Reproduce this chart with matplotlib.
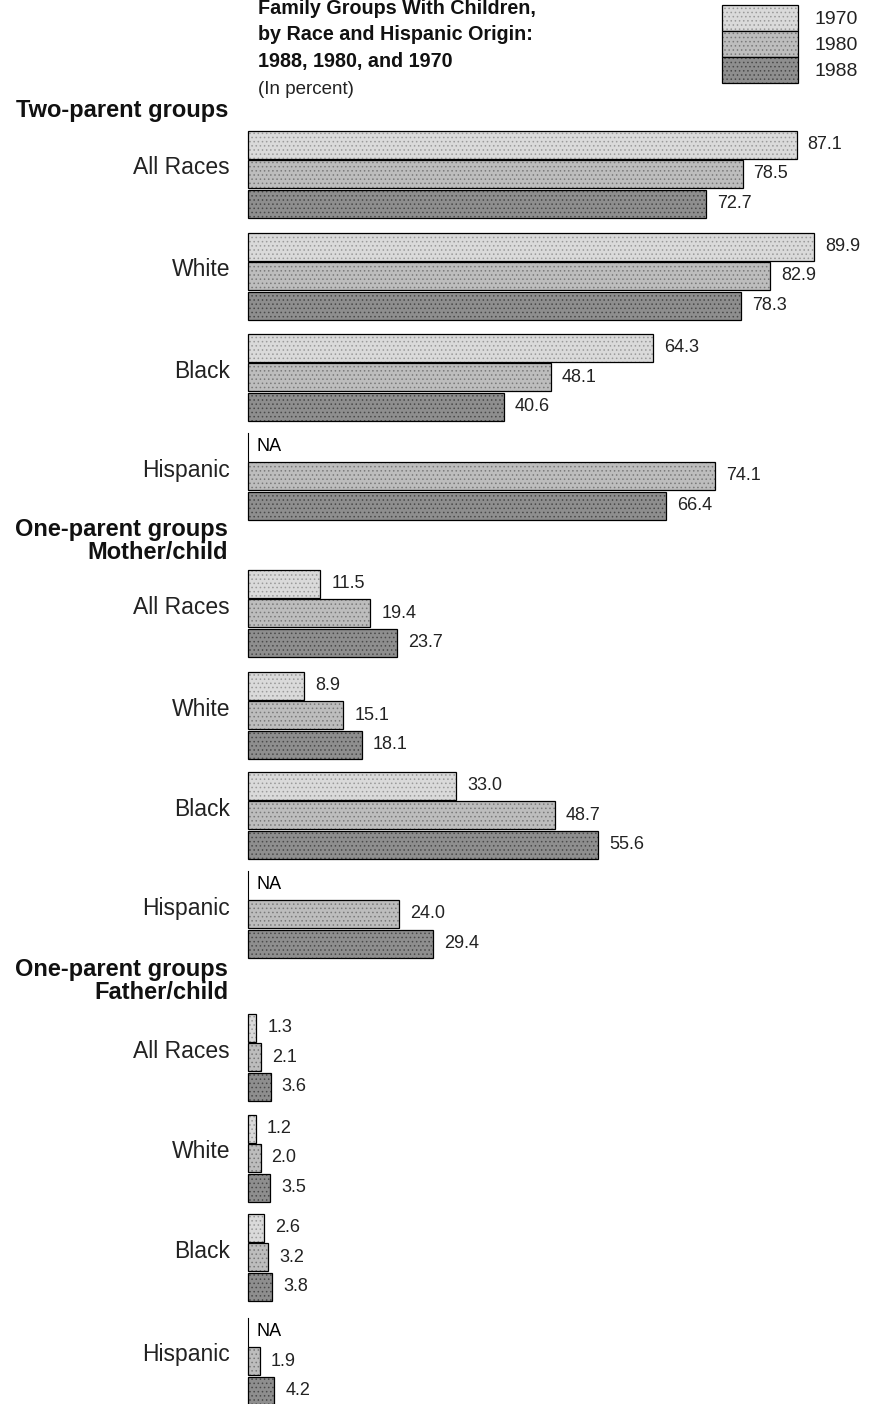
import matplotlib
matplotlib.use("Agg")
import matplotlib.pyplot as plt
import numpy as np

plt.rcParams['font.family'] = ['Liberation Sans', 'DejaVu Sans']
plt.rcParams['hatch.linewidth'] = 0.6

# data (percent), None = not available
years = ["1970", "1980", "1988"]
races = ["All Races", "White", "Black", "Hispanic"]
sections = ["Two-parent groups", "One-parent groups\nMother/child", "One-parent groups\nFather/child"]

two_parent_1970 = [87.1, 89.9, 64.3, None]
two_parent_1980 = [78.5, 82.9, 48.1, 74.1]
two_parent_1988 = [72.7, 78.3, 40.6, 66.4]

mother_1970 = [11.5, 8.9, 33.0, None]
mother_1980 = [19.4, 15.1, 48.7, 24.0]
mother_1988 = [23.7, 18.1, 55.6, 29.4]

father_1970 = [1.3, 1.2, 2.6, None]
father_1980 = [2.1, 2.0, 3.2, 1.9]
father_1988 = [3.6, 3.5, 3.8, 4.2]

section_data = [
    [two_parent_1970, two_parent_1980, two_parent_1988],
    [mother_1970, mother_1980, mother_1988],
    [father_1970, father_1980, father_1988],
]

# layout in pixels
W, H = 869, 1404
x0 = 248          # zero line
ppu = 6.3         # pixels per percent
group_mid = [[174, 276, 377, 476], [613, 715, 815, 914], [1057, 1158, 1257, 1361]]
header_y = [110, 541, 981]
pitch = 29.5
bar_h = 28

face = ["#dadada", "#bdbdbd", "#8e8e8e"]
dots = ["#9a9a9a", "#7a7a7a", "#4a4a4a"]

fig = plt.figure(figsize=(W / 100, H / 100), dpi=100)
ax = fig.add_axes([0, 0, 1, 1])
ax.set_xlim(-x0 / ppu, (W - x0) / ppu)
ax.set_ylim(H, 0)
ax.axis("off")


def tx(xpx):
    return (xpx - x0) / ppu


for s, series in enumerate(section_data):
    ax.text(tx(228), header_y[s], sections[s], ha="right", va="center",
            fontsize=17, fontweight="bold", linespacing=1.0, color="#111111")
    for g, race in enumerate(races):
        mid = group_mid[s][g]
        ax.text(tx(230), mid - 6, race, ha="right", va="center", fontsize=16.5,
                color="#222222")
        for k in range(3):
            v = series[k][g]
            yc = mid + (k - 1) * pitch
            if v is None:
                ax.plot([0, 0], [yc - bar_h / 2, yc + bar_h / 2], color="black", lw=0.8)
                ax.text(tx(256), yc, "NA", ha="left", va="center", fontsize=13)
                continue
            ax.barh(yc, v, height=bar_h, left=0, color=face[k], edgecolor=dots[k],
                    hatch="....", linewidth=0)
            ax.barh(yc, v, height=bar_h, left=0, fill=False, edgecolor="black",
                    linewidth=0.9)
            ax.text(v + 11 / ppu, yc, f"{v:.1f}", ha="left", va="center",
                    fontsize=13, color="#222222")

# title (first line sits at the very top edge as in the scan)
title_lines = ["Family Groups With Children,", "by Race and Hispanic Origin:",
               "1988, 1980, and 1970"]
for i, line in enumerate(title_lines):
    fig.text(258 / W, 1 - (8 + 27 * i) / H, line, ha="left", va="center",
             fontsize=14.2, fontweight="bold", color="#111111")
fig.text(258 / W, 1 - 89 / H, "(In percent)", ha="left", va="center", fontsize=13.5,
         color="#222222")

# legend
leg_x0, leg_x1 = 722, 798
leg_h = 26
for k, yr in enumerate(years):
    top = 5 + leg_h * k
    ax.bar(tx(leg_x0), leg_h, width=(leg_x1 - leg_x0) / ppu, bottom=top, align="edge",
           color=face[k], edgecolor=dots[k], hatch="....", linewidth=0)
    ax.bar(tx(leg_x0), leg_h, width=(leg_x1 - leg_x0) / ppu, bottom=top, align="edge",
           fill=False, edgecolor="black", linewidth=0.9)
    ax.text(tx(815), top + 15, yr, ha="left", va="center", fontsize=14, color="#222222")

fig.savefig("out.png", dpi=100, facecolor="white")
